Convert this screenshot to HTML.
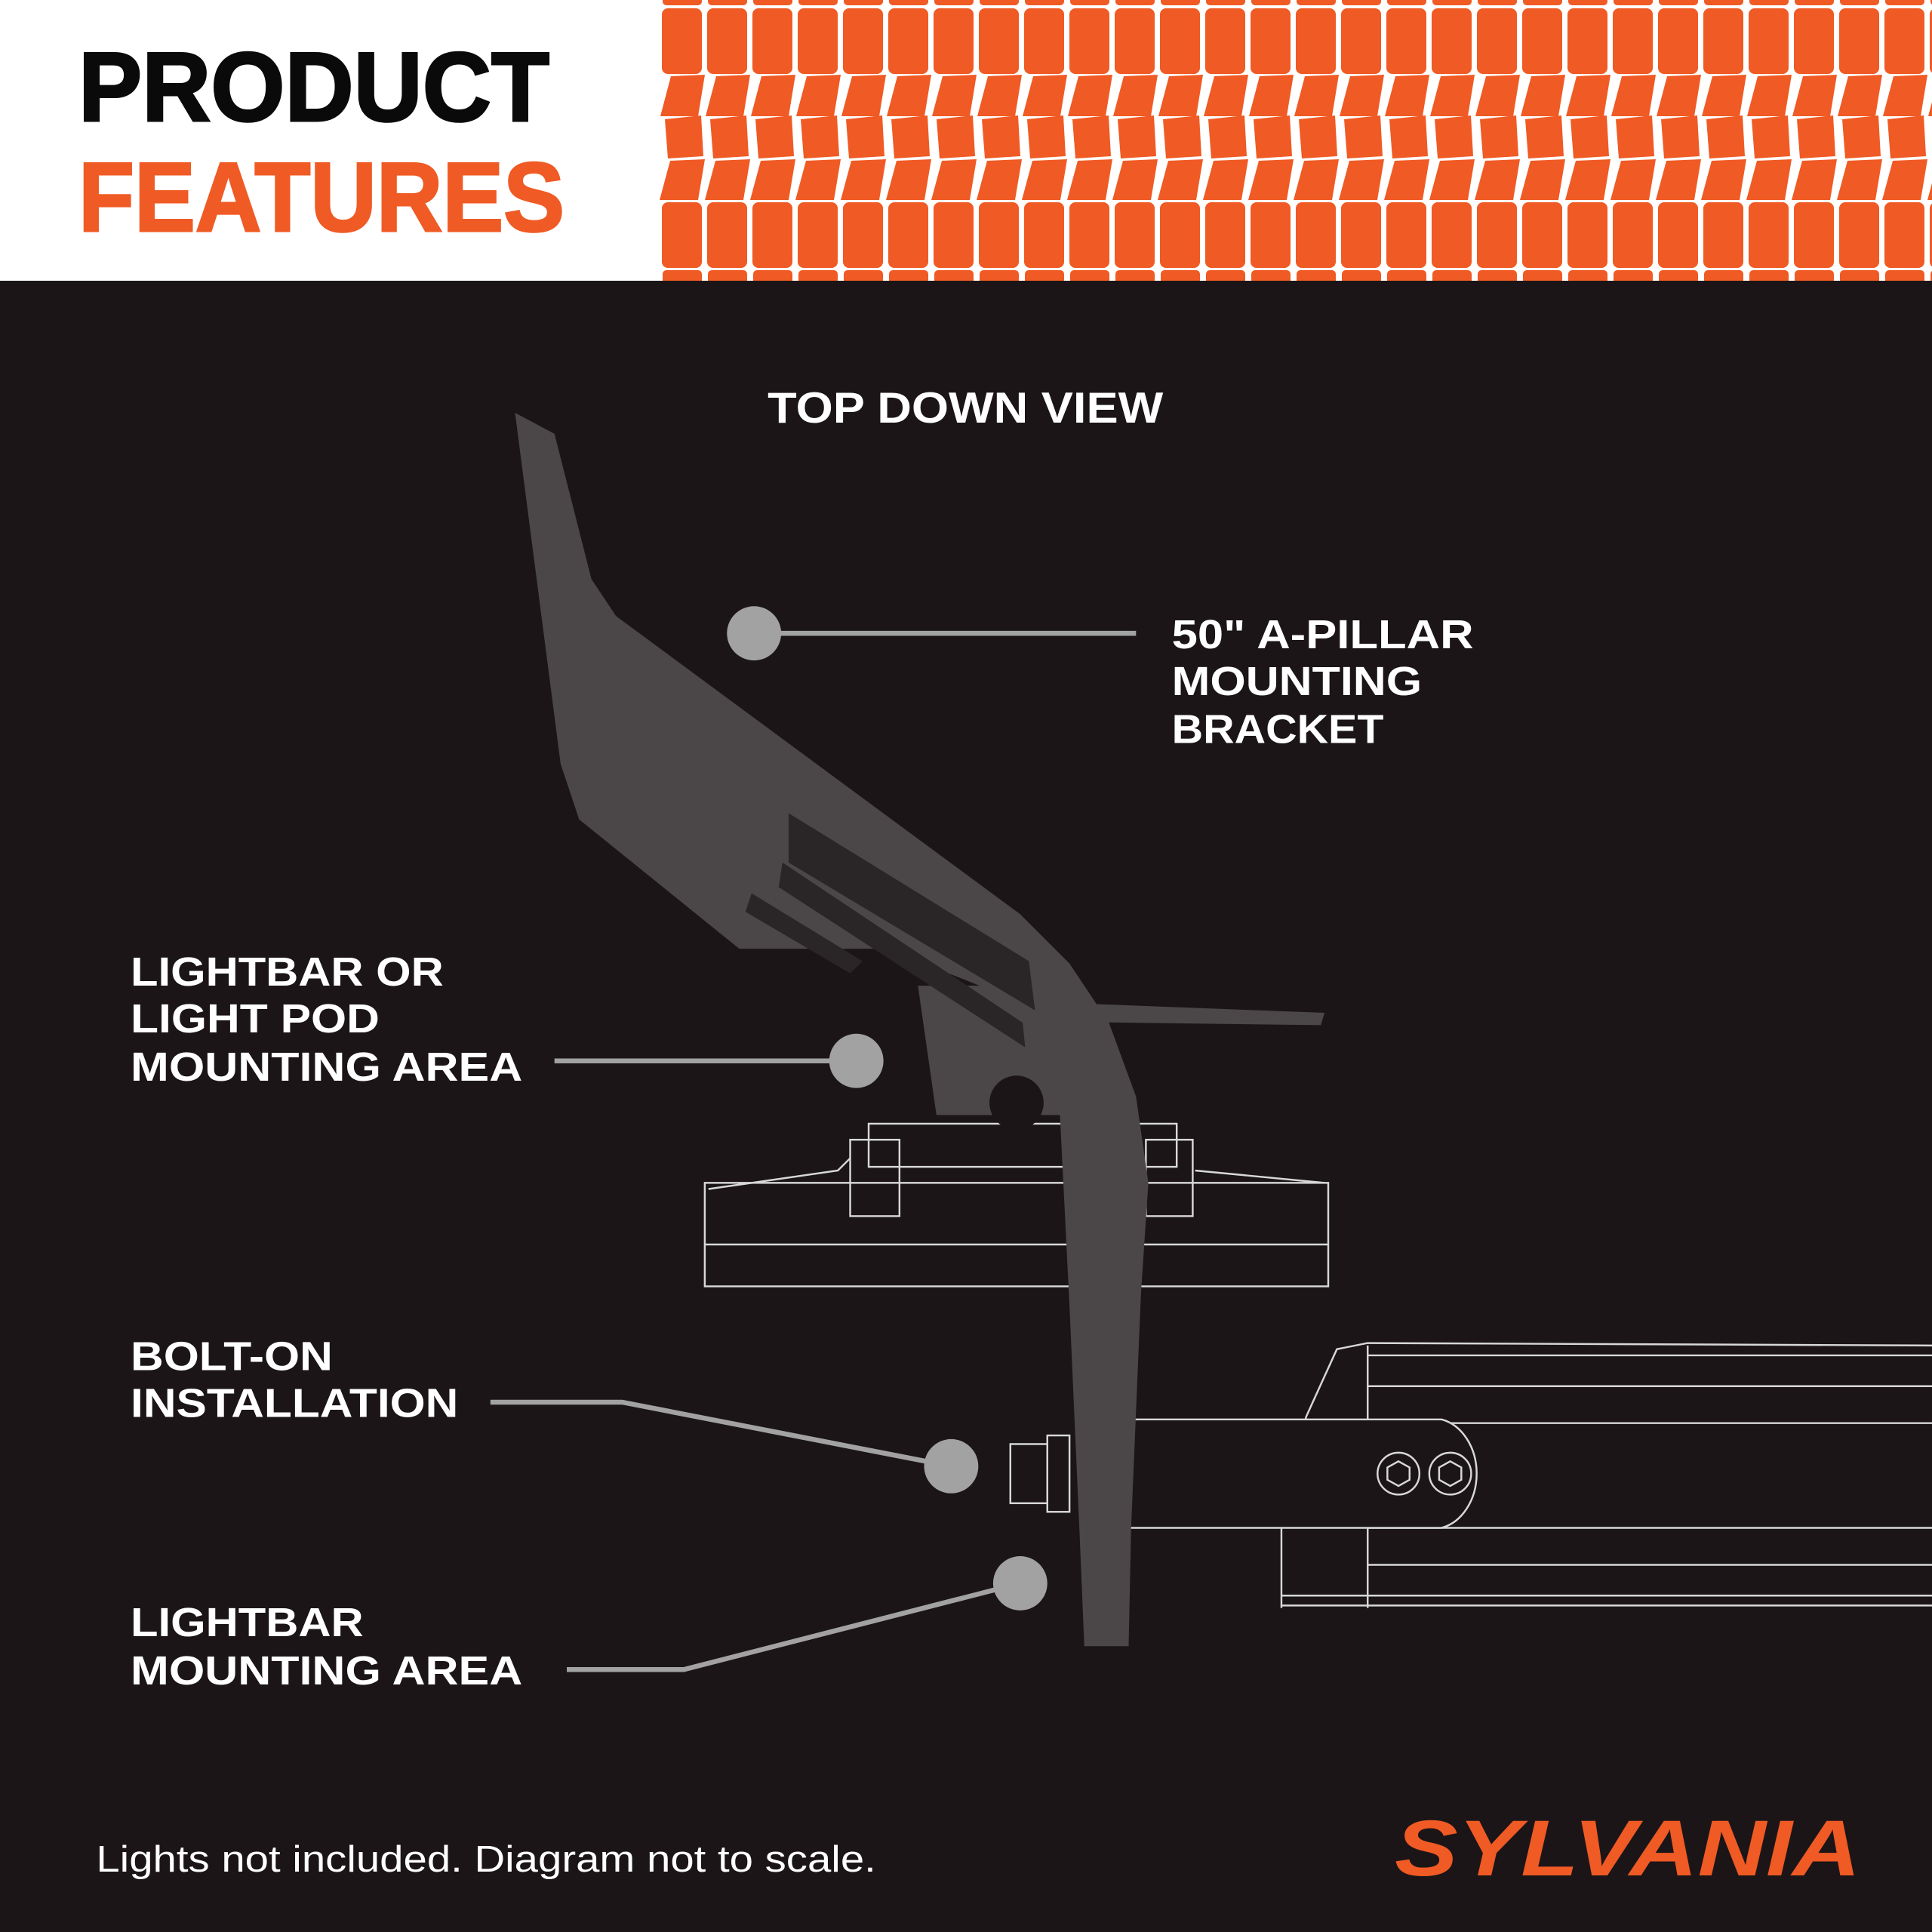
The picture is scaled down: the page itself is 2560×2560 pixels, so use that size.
<!DOCTYPE html>
<html><head><meta charset="utf-8"><style>
html,body{margin:0;padding:0;background:#1b1517;}
svg{display:block}
</style></head><body>
<svg width="2560" height="2560" viewBox="0 0 2560 2560" xmlns="http://www.w3.org/2000/svg">
<defs>
<pattern id="tread" x="874" y="0" width="60" height="372" patternUnits="userSpaceOnUse">
<rect width="60" height="372" fill="#ffffff"/>
<rect x="4" y="-10" width="52" height="17" rx="5" fill="#f05a24"/>
<rect x="3" y="11" width="53" height="87" rx="8" fill="#f05a24"/>
<polygon points="15,101 60,99 51,154 1,154" fill="#f05a24"/>
<polygon points="7,158 55,153 58,207 11,210" fill="#f05a24"/>
<polygon points="14,213 60,211 51,265 0,265" fill="#f05a24"/>
<rect x="3" y="268" width="53" height="87" rx="8" fill="#f05a24"/>
<rect x="4" y="358" width="52" height="20" rx="5" fill="#f05a24"/>
</pattern>
</defs>
<rect x="0" y="0" width="2560" height="372" fill="#ffffff"/>
<rect x="874" y="0" width="1686" height="372" fill="url(#tread)"/>
<rect x="0" y="372" width="2560" height="2188" fill="#1b1517"/>
<text x="104" y="160" font-family="Liberation Sans, sans-serif" font-weight="bold" font-size="130" fill="#0a0a0a" stroke="#0a0a0a" stroke-width="3" textLength="624" lengthAdjust="spacingAndGlyphs">PRODUCT</text>
<text x="104" y="306" font-family="Liberation Sans, sans-serif" font-weight="bold" font-size="130" fill="#f05a24" stroke="#f05a24" stroke-width="3" textLength="644" lengthAdjust="spacingAndGlyphs">FEATURES</text>

<g transform="scale(1.63265)">
<text x="623" y="343" font-family="Liberation Sans, sans-serif" font-weight="bold" font-size="35" fill="#fff" textLength="321" lengthAdjust="spacingAndGlyphs">TOP DOWN VIEW</text>

<g fill="none" stroke="#d8d8d8" stroke-width="1.5">
<rect x="572" y="960" width="506" height="84"/>
<line x1="572" y1="1010" x2="1078" y2="1010"/>
<rect x="690" y="925" width="40" height="62"/>
<rect x="930" y="925" width="38" height="62"/>
<rect x="705" y="912" width="250" height="35"/>
<polyline points="575,965 680,950 690,940"/>
<polyline points="970,950 1075,960"/>
<polyline points="1040,1305 1040,1240 1060,1150 1085,1095 1110,1090 1568,1092"/>
<line x1="1110" y1="1100" x2="1568" y2="1100"/>
<line x1="1110" y1="1125" x2="1568" y2="1125"/>
<line x1="1110" y1="1155" x2="1568" y2="1155"/>
<line x1="1110" y1="1240" x2="1568" y2="1240"/>
<line x1="1110" y1="1270" x2="1568" y2="1270"/>
<line x1="1040" y1="1295" x2="1568" y2="1295"/>
<line x1="1040" y1="1303" x2="1568" y2="1303"/>
<line x1="1110" y1="1092" x2="1110" y2="1305"/>
<path d="M898,1152 H1170 A36,45 0 0 1 1170,1240 H898 Z" fill="#1b1517"/>
<circle cx="1135" cy="1196" r="17"/>
<circle cx="1177" cy="1196" r="17"/>
<polygon points="1135,1186 1144,1191 1144,1201 1135,1206 1126,1201 1126,1191"/>
<polygon points="1177,1186 1186,1191 1186,1201 1177,1206 1168,1201 1168,1191"/>
<rect x="820" y="1172" width="30" height="48"/>
<rect x="850" y="1165" width="18" height="62"/>
</g>

<g fill="#4b4748">
<polygon points="745,800 870,800 880,905 760,905"/>
<polygon points="760,810 1075,822 1072,832 760,828"/>
<polygon points="418,335 450,352 480,470 500,500 828,742 868,782 900,830 922,890 932,960 926,1050 918,1240 916,1336 880,1336 876,1240 868,1060 858,860 845,820 720,770 600,770 470,665 455,620"/>
</g>
<g fill="#2a2526">
<polygon points="640,660 835,780 840,820 640,700"/>
<polygon points="635,700 830,830 832,850 632,720"/>
<polygon points="610,725 700,780 690,790 605,740"/>
</g>
<circle cx="825" cy="895" r="22" fill="#1b1517"/>

<g stroke="#a3a2a3" stroke-width="4" fill="none">
<line x1="612" y1="514" x2="922" y2="514"/>
<line x1="450" y1="861" x2="695" y2="861"/>
<polyline points="398,1138 505,1138 772,1190"/>
<polyline points="460,1355 555,1355 828,1285"/>
</g>
<g fill="#a3a2a3">
<circle cx="612" cy="514" r="22"/>
<circle cx="695" cy="861" r="22"/>
<circle cx="772" cy="1190" r="22"/>
<circle cx="828" cy="1285" r="22"/>
</g>

<g font-family="Liberation Sans, sans-serif" font-weight="bold" font-size="33" fill="#fff">
<text x="951" y="526" textLength="245" lengthAdjust="spacingAndGlyphs">50" A-PILLAR</text>
<text x="951" y="564" textLength="203" lengthAdjust="spacingAndGlyphs">MOUNTING</text>
<text x="951" y="603" textLength="172" lengthAdjust="spacingAndGlyphs">BRACKET</text>
<text x="106" y="800" textLength="254" lengthAdjust="spacingAndGlyphs">LIGHTBAR OR</text>
<text x="106" y="838" textLength="202" lengthAdjust="spacingAndGlyphs">LIGHT POD</text>
<text x="106" y="877" textLength="318" lengthAdjust="spacingAndGlyphs">MOUNTING AREA</text>
<text x="106" y="1112" textLength="164" lengthAdjust="spacingAndGlyphs">BOLT-ON</text>
<text x="106" y="1150" textLength="266" lengthAdjust="spacingAndGlyphs">INSTALLATION</text>
<text x="106" y="1328" textLength="189" lengthAdjust="spacingAndGlyphs">LIGHTBAR</text>
<text x="106" y="1367" textLength="318" lengthAdjust="spacingAndGlyphs">MOUNTING AREA</text>
</g>
<text x="78" y="1519" font-family="Liberation Sans, sans-serif" font-size="30" fill="#fff" textLength="633" lengthAdjust="spacingAndGlyphs">Lights not included. Diagram not to scale.</text>
<text x="1510" y="1522" text-anchor="end" font-family="Liberation Sans, sans-serif" font-weight="bold" font-style="italic" font-size="64" fill="#f05a24" textLength="378" lengthAdjust="spacingAndGlyphs">SYLVANIA</text>
</g>
</svg>
</body></html>
